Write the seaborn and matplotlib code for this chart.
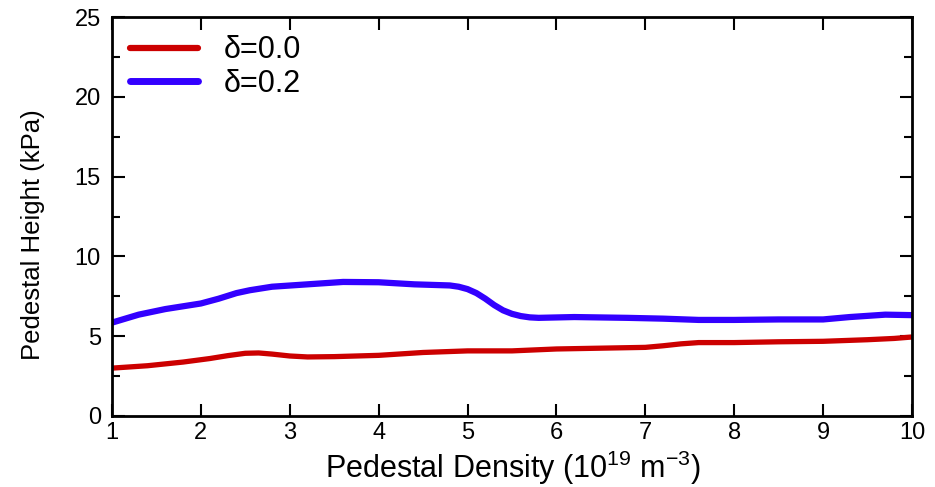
import matplotlib
matplotlib.use("Agg")
import matplotlib.pyplot as plt
import seaborn as sns
import pandas as pd
from matplotlib.ticker import MultipleLocator

density_d00 = [1.0, 1.4, 1.8, 2.1, 2.3, 2.5, 2.65, 2.8, 3.0, 3.2, 3.5, 4.0, 4.5, 5.0, 5.5, 6.0, 6.5, 7.0, 7.2, 7.4, 7.6, 8.0, 8.5, 9.0, 9.5, 9.8, 10.0]
height_d00 = [3.0, 3.15, 3.38, 3.6, 3.78, 3.93, 3.95, 3.88, 3.76, 3.7, 3.72, 3.8, 3.98, 4.08, 4.08, 4.2, 4.25, 4.3, 4.4, 4.52, 4.6, 4.6, 4.65, 4.68, 4.78, 4.86, 4.95]

density_d02 = [1.0, 1.3, 1.6, 2.0, 2.2, 2.4, 2.55, 2.8, 3.2, 3.6, 4.0, 4.4, 4.8, 4.9, 5.0, 5.1, 5.2, 5.3, 5.4, 5.5, 5.6, 5.7, 5.8, 6.2, 6.8, 7.2, 7.6, 8.0, 8.5, 9.0, 9.3, 9.7, 10.0]
height_d02 = [5.85, 6.35, 6.7, 7.05, 7.35, 7.7, 7.88, 8.1, 8.25, 8.4, 8.38, 8.25, 8.18, 8.1, 7.95, 7.7, 7.35, 6.95, 6.62, 6.4, 6.26, 6.18, 6.15, 6.2, 6.15, 6.1, 6.02, 6.02, 6.05, 6.05, 6.2, 6.35, 6.32]

labels = ["δ=0.0", "δ=0.2"]
colors = ["#CC0000", "#3300FF"]
xticks = list(range(1, 11))
yticks = [0, 5, 10, 15, 20, 25]

sns.set_theme(style="ticks")
plt.rcParams["font.family"] = ["Liberation Sans", "DejaVu Sans"]
plt.rcParams["text.color"] = "black"
plt.rcParams["axes.labelcolor"] = "black"
plt.rcParams["xtick.color"] = "black"
plt.rcParams["ytick.color"] = "black"

df = pd.concat([
    pd.DataFrame({"x": density_d00, "y": height_d00, "s": labels[0]}),
    pd.DataFrame({"x": density_d02, "y": height_d02, "s": labels[1]}),
])

fig = plt.figure(figsize=(9.35, 4.87), dpi=100)
ax = fig.add_axes([112/935, 1 - 416/487, 800/935, 399/487])
sns.lineplot(data=df, x="x", y="y", hue="s", palette=colors, ax=ax, sort=False,
             estimator=None, linewidth=4.2)
for line, lw in zip(ax.get_lines(), [3.8, 4.5]):
    line.set_linewidth(lw)
    line.set_solid_joinstyle("round")
    line.set_solid_capstyle("butt")

ax.set_xlim(1, 10)
ax.set_ylim(0, 25)
ax.set_xticks(xticks)
ax.set_yticks(yticks)
ax.yaxis.set_minor_locator(MultipleLocator(2.5))
ax.tick_params(which="both", direction="in", top=True, right=True, width=1.5,
               color="black", labelcolor="black")
ax.tick_params(which="major", length=9, labelsize=17)
ax.tick_params(axis="x", which="major", pad=4)
ax.tick_params(axis="y", which="major", pad=8)
ax.tick_params(which="minor", length=6)
for sp in ax.spines.values():
    sp.set_linewidth(2)
    sp.set_color("black")

ax.set_xlabel("Pedestal Density (10$^{\\mathregular{19}}$ m$^{\\mathregular{-3}}$)", fontsize=22)
ax.xaxis.set_label_coords(0.501, -0.082)
ax.set_ylabel("Pedestal Height (kPa)", fontsize=18.5)
ax.yaxis.set_label_coords(-0.084, 0.454)

leg = ax.legend(loc="upper left", frameon=False, fontsize=22, handlelength=2.2,
                handletextpad=0.85, borderaxespad=0.2, labelspacing=0.12)
for h, lw in zip(leg.get_lines(), [4.5, 5]):
    h.set_linewidth(lw)

fig.savefig("out.png", dpi=100)
